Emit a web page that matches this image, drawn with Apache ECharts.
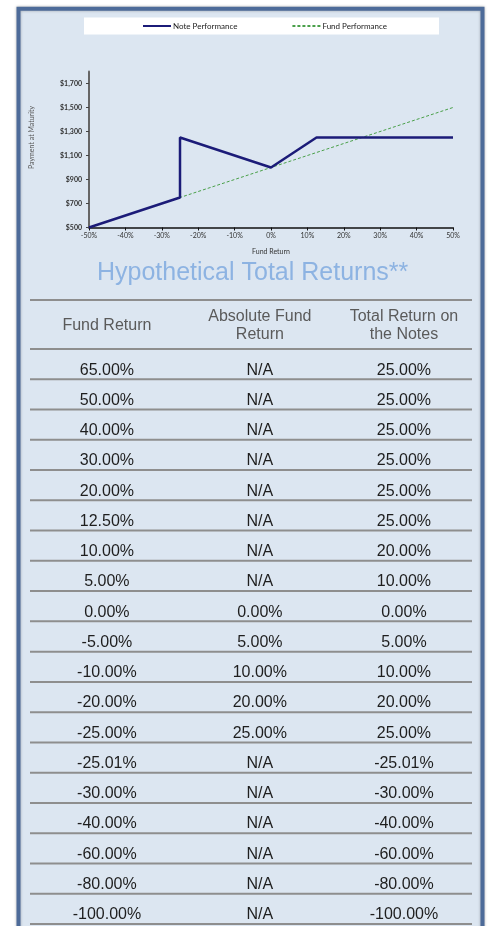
<!DOCTYPE html>
<html>
<head>
<meta charset="utf-8">
<script src="https://cdn.jsdelivr.net/npm/echarts@6/dist/echarts.min.js"></script>
<style>
  html, body { margin: 0; padding: 0; background: #fff; }
  #main { width: 490px; height: 926px; }
</style>
</head>
<body>
<div id="main"></div>
<script>
// payoff chart
var noteX = [-50, -25, -25, 0, 12.5, 50];
var notePayment = [500, 750, 1250, 1000, 1250, 1250];
var fundX = [-50, 50];
var fundPayment = [500, 1500];
var yTicks = [500, 700, 900, 1100, 1300, 1500, 1700];

// hypothetical total returns table
var tableHeaders = ['Fund Return', 'Absolute Fund\nReturn', 'Total Return on\nthe Notes'];
var fundReturn = [65, 50, 40, 30, 20, 12.5, 10, 5, 0, -5, -10, -20, -25, -25.01, -30, -40, -60, -80, -100];
var absFundReturn = [null, null, null, null, null, null, null, null, 0, 5, 10, 20, 25, null, null, null, null, null, null];
var noteReturn = [25, 25, 25, 25, 25, 25, 20, 10, 0, 5, 10, 20, 25, -25.01, -30, -40, -60, -80, -100];

// layout
var tbl = { left: 30, width: 442, top: 349, height: 575 };
var colPos = [0.174, 0.52, 0.846];
var smallFont = 'Lato, "Open Sans", sans-serif';
var tableFont = '"Liberation Sans", Arial, sans-serif';

function pct(v) {
  return v === null ? 'N/A' : v.toFixed(2) + '%';
}
function money(v) {
  return '$' + v.toLocaleString('en-US');
}

function renderRow(params, api) {
  var i = api.value(1);
  var cs = params.coordSys;
  var mid = api.coord([0, i])[1];
  var h = api.size([0, 1])[1];
  var cells = [pct(fundReturn[i]), pct(absFundReturn[i]), pct(noteReturn[i])];
  var children = cells.map(function (t, c) {
    return {
      type: 'text',
      x: cs.x + colPos[c] * cs.width,
      y: mid + 6,
      style: {
        text: t, align: 'center', verticalAlign: 'middle',
        fill: '#1e1e1e', fontSize: 16, fontFamily: tableFont
      }
    };
  });
  children.push({
    type: 'line',
    shape: { x1: cs.x, y1: mid + h / 2, x2: cs.x + cs.width, y2: mid + h / 2 },
    style: { stroke: '#8e8e8e', lineWidth: 2 }
  });
  if (i === 0) {
    children.push({
      type: 'line',
      shape: { x1: cs.x, y1: mid - h / 2, x2: cs.x + cs.width, y2: mid - h / 2 },
      style: { stroke: '#8e8e8e', lineWidth: 2 }
    });
  }
  return { type: 'group', children: children };
}

var chart = echarts.init(document.getElementById('main'), null, { renderer: 'canvas' });

var graphics = [
  {
    type: 'rect', z: -10, silent: true,
    shape: { x: 18.5, y: 8.7, width: 464, height: 1000 },
    style: { fill: '#dce6f1', stroke: '#4d6b99', lineWidth: 4, shadowBlur: 3, shadowColor: 'rgba(0,0,0,0.3)' }
  },
  {
    type: 'rect', z: -5, silent: true,
    shape: { x: 84, y: 17.5, width: 355, height: 17 },
    style: { fill: '#ffffff' }
  },
  {
    type: 'line', silent: true,
    shape: { x1: tbl.left, y1: 300, x2: tbl.left + tbl.width, y2: 300 },
    style: { stroke: '#8e8e8e', lineWidth: 2 }
  }
];
tableHeaders.forEach(function (t, c) {
  graphics.push({
    type: 'text', silent: true,
    x: tbl.left + colPos[c] * tbl.width,
    y: 326,
    style: {
      text: t, align: 'center', verticalAlign: 'middle', lineHeight: 18,
      fill: '#5a5a5a', fontSize: 16, fontFamily: tableFont
    }
  });
});

var option = {
  backgroundColor: '#ffffff',
  animation: false,
  title: {
    text: 'Hypothetical Total Returns**',
    left: 97, top: 261, padding: 0,
    textStyle: { color: '#8db3e2', fontSize: 25, fontWeight: 'normal', fontFamily: tableFont }
  },
  legend: {
    left: 142, top: 22, padding: 0,
    itemWidth: 28, itemHeight: 6, itemGap: 54,
    itemStyle: { opacity: 0 },
    data: ['Note Performance', 'Fund Performance'],
    textStyle: { fontSize: 8, color: '#222', fontFamily: smallFont, padding: [0, 0, 0, -3] }
  },
  graphic: graphics,
  grid: [
    { left: 89, right: 37, top: 71.5, height: 156 },
    { left: tbl.left, width: tbl.width, top: tbl.top, height: tbl.height }
  ],
  xAxis: [
    {
      type: 'value', gridIndex: 0, min: -50, max: 50, interval: 10,
      name: 'Fund Return', nameLocation: 'middle', nameGap: 21,
      nameTextStyle: { fontSize: 7, color: '#333', fontFamily: smallFont },
      axisLine: { onZero: false, lineStyle: { color: '#111', width: 1.5 } },
      axisTick: { show: true, length: 3, lineStyle: { color: '#111' } },
      axisLabel: { fontSize: 7, color: '#333', margin: 5, fontFamily: smallFont, formatter: '{value}%' },
      splitLine: { show: false }
    },
    { type: 'value', gridIndex: 1, min: 0, max: 1, show: false }
  ],
  yAxis: [
    {
      type: 'value', gridIndex: 0, min: 500, max: 1800,
      name: 'Payment at Maturity', nameLocation: 'middle', nameGap: 54,
      nameTextStyle: { fontSize: 7, color: '#555', fontFamily: smallFont, padding: [0, 0, 0, 24] },
      axisLine: { show: true, onZero: false, lineStyle: { color: '#666', width: 2 } },
      axisTick: { show: true, length: 3, customValues: yTicks, lineStyle: { color: '#444' } },
      axisLabel: {
        fontSize: 7, color: '#333', fontWeight: 'bold', margin: 7, fontFamily: smallFont,
        customValues: yTicks, formatter: money
      },
      splitLine: { show: false }
    },
    {
      type: 'category', gridIndex: 1, inverse: true, show: false,
      data: fundReturn.map(pct)
    }
  ],
  series: [
    {
      name: 'Fund Performance', type: 'line', xAxisIndex: 0, yAxisIndex: 0,
      symbol: 'none', z: 2,
      lineStyle: { color: '#4aa04a', width: 1, type: [3, 2] },
      itemStyle: { color: '#4aa04a' },
      data: fundX.map(function (x, i) { return [x, fundPayment[i]]; })
    },
    {
      name: 'Note Performance', type: 'line', xAxisIndex: 0, yAxisIndex: 0,
      symbol: 'none', z: 3,
      lineStyle: { color: '#1b1b78', width: 2.5 },
      itemStyle: { color: '#1b1b78' },
      data: noteX.map(function (x, i) { return [x, notePayment[i]]; })
    },
    {
      type: 'custom', xAxisIndex: 1, yAxisIndex: 1, silent: true,
      renderItem: renderRow,
      encode: { x: 0, y: 1 },
      data: fundReturn.map(function (v, i) { return [0.5, i]; })
    }
  ]
};

chart.setOption(option);
</script>
</body>
</html>
